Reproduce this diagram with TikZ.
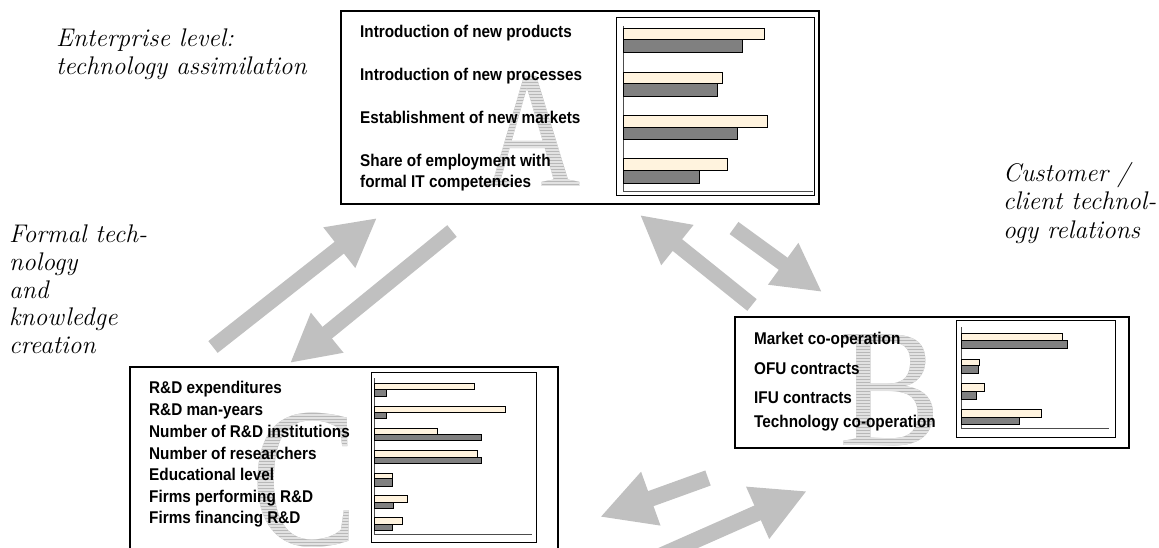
\documentclass[tikz,border=0pt]{standalone}
\usepackage{fontspec}
\usepackage{graphicx}
\usetikzlibrary{arrows.meta}
\newfontfamily\sanslab{Liberation Sans}[FakeStretch=0.9]
\newfontfamily\serifbig{Liberation Serif}
\definecolor{arrowgray}{RGB}{192,192,192}
\definecolor{cream}{RGB}{255,243,222}
\definecolor{darkbarc}{RGB}{128,128,128}
\definecolor{letgray}{RGB}{184,184,184}
\definecolor{letstripe}{RGB}{226,226,226}
\newcommand\stripedletter[6]{%
  \node[inner sep=0pt, anchor=base, text=letgray, font=\serifbig\fontsize{#4}{#4}\selectfont] (#1) at (#2,#3) {\scalebox{#5}[1]{#6}};
  \begin{scope}
    \clip \foreach \yy in {0,3,...,240} { (#2-130,#3-200+\yy) rectangle (#2+130,#3-200+\yy+1.2) };
    \node[inner sep=0pt, anchor=base, text=letstripe, font=\serifbig\fontsize{#4}{#4}\selectfont] (#1s) at (#2,#3) {\scalebox{#5}[1]{#6}};
  \end{scope}}
\begin{document}
\begin{tikzpicture}[x=1pt,y=-1pt,
  outerbox/.style={draw=black, line width=2pt, anchor=north west, inner sep=0pt},
  chartframe/.style={draw=black, line width=0.8pt, anchor=north west, inner sep=0pt},
  axisline/.style={draw=black!70, line width=0.8pt},
  lightbar/.style={fill=cream, draw=black, line width=0.7pt},
  darkbar/.style={fill=darkbarc, draw=black, line width=0.7pt},
  lab/.style={anchor=base west, inner sep=0pt, font=\sanslab\bfseries\fontsize{17}{17}\selectfont},
  itl/.style={anchor=base west, inner sep=0pt, font=\itshape\fontsize{25.5}{25.5}\selectfont},
  bigarrow/.style={line width=15pt, draw=arrowgray, -{Triangle[width=48pt,length=48pt]}},
  bigarrowb/.style={line width=16pt, draw=arrowgray, -{Triangle[width=53pt,length=54pt]}},
]
\useasboundingbox (0,0) rectangle (1159,548);

% big letters
\stripedletter{letA}{532}{187}{166}{0.82}{A}
\stripedletter{letB}{890}{445}{169}{0.9}{B}
\stripedletter{letC}{305}{545}{200}{0.8}{C}

% Box A
\node[outerbox, minimum width=478pt, minimum height=193pt] (boxA) at (340,10) {};
\node[chartframe, minimum width=198pt, minimum height=178pt] (chartA) at (616,17) {};
\draw[axisline] (623,26) -- (623,191) -- (813,191);
\draw[lightbar] (623,28) rectangle (764,39);
\draw[darkbar] (623,39) rectangle (742,52);
\draw[lightbar] (623,72) rectangle (722,83);
\draw[darkbar] (623,83) rectangle (717,96);
\draw[lightbar] (623,115) rectangle (767,127);
\draw[darkbar] (623,127) rectangle (737,139);
\draw[lightbar] (623,158) rectangle (727,170);
\draw[darkbar] (623,170) rectangle (699,183);
\node[lab] (a1) at (360,38) {Introduction of new products};
\node[lab] (a2) at (360,81) {Introduction of new processes};
\node[lab] (a3) at (360,124) {Establishment of new markets};
\node[lab] (a4) at (360,167) {Share of employment with};
\node[lab] (a5) at (360,188) {formal IT competencies};

% Box B
\node[outerbox, minimum width=394pt, minimum height=131pt] (boxB) at (734,316) {};
\node[chartframe, minimum width=159pt, minimum height=117pt] (chartB) at (956,320) {};
\draw[axisline] (961,327) -- (961,428) -- (1109,428);
\draw[lightbar] (961,333) rectangle (1062,340);
\draw[darkbar] (961,340) rectangle (1067,348);
\draw[lightbar] (961,359) rectangle (979,365);
\draw[darkbar] (961,365) rectangle (978,373);
\draw[lightbar] (961,383) rectangle (984,391);
\draw[darkbar] (961,391) rectangle (976,399);
\draw[lightbar] (961,409) rectangle (1041,417);
\draw[darkbar] (961,417) rectangle (1019,424);
\node[lab] (b1) at (754,344) {Market co-operation};
\node[lab] (b2) at (754,374) {OFU contracts};
\node[lab] (b3) at (754,403) {IFU contracts};
\node[lab] (b4) at (754,427) {Technology co-operation};

% Box C
\node[outerbox, minimum width=428pt, minimum height=200pt] (boxC) at (129,366) {};
\node[chartframe, minimum width=165pt, minimum height=170pt] (chartC) at (371,372) {};
\draw[axisline] (374,378) -- (374,534) -- (532,534);
\draw[lightbar] (374,383) rectangle (474,389);
\draw[darkbar] (374,389) rectangle (386,396);
\draw[lightbar] (374,406) rectangle (505,412);
\draw[darkbar] (374,412) rectangle (386,418);
\draw[lightbar] (374,428) rectangle (437,434);
\draw[darkbar] (374,434) rectangle (481,440);
\draw[lightbar] (374,450) rectangle (477,457);
\draw[darkbar] (374,457) rectangle (481,463);
\draw[lightbar] (374,473) rectangle (392,478);
\draw[darkbar] (374,478) rectangle (392,486);
\draw[lightbar] (374,495) rectangle (407,502);
\draw[darkbar] (374,502) rectangle (393,508);
\draw[lightbar] (374,517) rectangle (402,524);
\draw[darkbar] (374,524) rectangle (392,530);
\node[lab] (c1) at (149,393) {R\&D expenditures};
\node[lab] (c2) at (149,415) {R\&D man-years};
\node[lab] (c3) at (149,437) {Number of R\&D institutions};
\node[lab] (c4) at (149,459) {Number of researchers};
\node[lab] (c5) at (149,480) {Educational level};
\node[lab] (c6) at (149,502) {Firms performing R\&D};
\node[lab] (c7) at (149,523) {Firms financing R\&D};

% italic labels
\node[itl] (e1) at (56,47) {Enterprise level:};
\node[itl] (e2) at (56,75) {technology assimilation};
\node[itl] (f1) at (9,243) {Formal tech-};
\node[itl] (f2) at (9,270) {nology};
\node[itl] (f3) at (9,298) {and};
\node[itl] (f4) at (9,325) {knowledge};
\node[itl] (f5) at (9,353) {creation};
\node[itl] (g1) at (1003,182) {Customer /};
\node[itl] (g2) at (1003,210) {client technol-};
\node[itl] (g3) at (1003,238) {ogy relations};

% arrows
\coordinate (t1) at (213,347); \coordinate (h1) at (377,218);
\coordinate (t2) at (452,231); \coordinate (h2) at (290,363);
\coordinate (t3) at (752,305); \coordinate (h3) at (640,215);
\coordinate (t4) at (734,228); \coordinate (h4) at (822,292);
\coordinate (t5) at (708,478); \coordinate (h5) at (600,517);
\coordinate (t6) at (660,556); \coordinate (h6) at (807,491);
\draw[bigarrow] (t1) -- (h1);
\draw[bigarrow] (t2) -- (h2);
\draw[bigarrow] (t3) -- (h3);
\draw[bigarrow] (t4) -- (h4);
\draw[bigarrowb] (t5) -- (h5);
\draw[bigarrowb] (t6) -- (h6);
\end{tikzpicture}
\end{document}
